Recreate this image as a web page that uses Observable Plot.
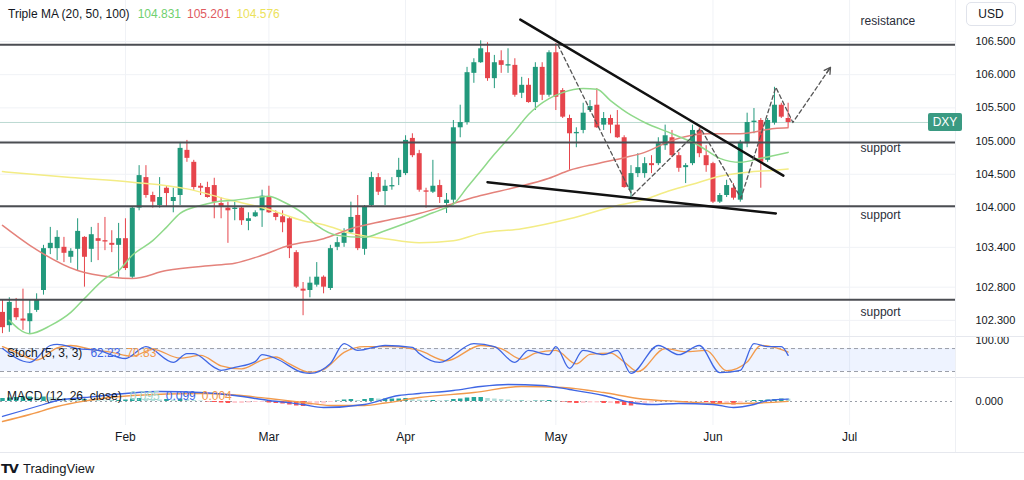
<!DOCTYPE html>
<html>
<head>
<meta charset="utf-8">
<script src="https://cdn.jsdelivr.net/npm/d3@7"></script>
<script src="https://cdn.jsdelivr.net/npm/@observablehq/plot@0.6"></script>
<style>
  html,body{margin:0;padding:0;background:#fff;}
  #chart{position:relative;width:1024px;height:480px;overflow:hidden;background:#fff;font-family:"Liberation Sans",Arial,sans-serif;color:#131722;}
  #chart .pane{position:absolute;left:0;}
  #chart .pane svg{display:block;}
  .lbl{position:absolute;font-size:12px;white-space:nowrap;line-height:14px;z-index:5;}
  .lbl span{margin-left:6px;}
  .sep{position:absolute;left:0;width:1024px;height:1px;background:#e6e8ee;}
</style>
</head>
<body>
<div id="chart"></div>
<script>
// ---------------- data ----------------
const tradingDays = [
  "Jan 8","Jan 9","Jan 10","Jan 11","Jan 12","Jan 15","Jan 16","Jan 17","Jan 18","Jan 19","Jan 22","Jan 23","Jan 24","Jan 25","Jan 26","Jan 29","Jan 30","Jan 31",
  "Feb 1","Feb 2","Feb 5","Feb 6","Feb 7","Feb 8","Feb 9","Feb 12","Feb 13","Feb 14","Feb 15","Feb 16","Feb 19","Feb 20","Feb 21","Feb 22","Feb 23","Feb 26","Feb 27","Feb 28","Feb 29",
  "Mar 1","Mar 4","Mar 5","Mar 6","Mar 7","Mar 8","Mar 11","Mar 12","Mar 13","Mar 14","Mar 15","Mar 18","Mar 19","Mar 20","Mar 21","Mar 22","Mar 25","Mar 26","Mar 27","Mar 28",
  "Apr 1","Apr 2","Apr 3","Apr 4","Apr 5","Apr 8","Apr 9","Apr 10","Apr 11","Apr 12","Apr 15","Apr 16","Apr 17","Apr 18","Apr 19","Apr 22","Apr 23","Apr 24","Apr 25","Apr 26","Apr 29","Apr 30",
  "May 1","May 2","May 3","May 6","May 7","May 8","May 9","May 10","May 13","May 14","May 15","May 16","May 17","May 20","May 21","May 22","May 23","May 24","May 27","May 28","May 29","May 30","May 31",
  "Jun 3","Jun 4","Jun 5","Jun 6","Jun 7","Jun 10","Jun 11","Jun 12","Jun 13","Jun 14","Jun 17","Jun 18"
];
const open = [102.42,102.22,102.48,102.32,102.28,102.45,102.75,103.38,103.38,103.40,
103.25,103.37,103.55,103.37,103.53,103.50,103.46,103.43,103.53,102.95,
103.99,104.45,104.18,104.03,104.29,104.09,104.18,104.86,104.68,104.32,
104.30,104.33,104.06,103.99,103.97,103.99,103.79,103.86,103.95,104.15,
103.91,103.86,103.83,103.32,102.77,102.75,102.83,102.95,102.78,103.40,
103.46,103.62,103.88,103.37,104.03,104.45,104.24,104.31,104.45,104.51,
105.04,104.81,104.25,104.23,104.33,104.06,104.11,105.20,105.28,106.02,
106.18,106.33,105.94,106.21,106.13,106.14,105.72,105.84,105.58,106.11,
105.69,106.33,105.76,105.34,105.11,105.16,105.46,105.54,105.24,105.34,
105.24,105.05,104.26,104.51,104.51,104.66,104.66,104.93,105.05,104.78,
104.60,104.66,105.16,104.78,104.66,104.08,104.18,104.29,104.11,104.96,
105.28,105.31,104.71,105.27,105.54,105.34];
const high = [102.60,102.64,102.63,102.77,102.60,102.70,103.43,103.70,103.65,103.55,
103.38,103.83,103.56,103.70,103.76,103.85,103.65,103.76,103.83,104.00,
104.63,104.63,104.23,104.45,104.33,104.29,104.98,105.01,104.71,104.36,
104.38,104.44,104.15,104.08,104.08,104.00,103.92,103.95,104.26,104.32,
103.95,103.95,103.85,103.35,102.87,102.95,103.17,102.97,103.43,103.55,
103.68,104.08,104.18,104.03,104.53,104.51,104.41,104.45,104.74,105.08,
105.11,104.86,104.29,104.71,104.41,104.21,105.31,105.54,106.11,106.24,
106.51,106.48,106.29,106.36,106.39,106.24,105.96,105.94,106.18,106.18,
106.36,106.47,105.79,105.39,105.20,105.57,105.61,105.79,105.43,105.39,
105.46,105.08,104.63,104.81,104.75,104.78,105.05,105.24,105.16,104.83,
104.66,105.24,105.20,104.93,104.68,104.21,104.41,104.36,105.01,105.42,
105.49,105.34,105.34,105.81,105.57,105.57];
const low = [102.10,102.12,102.30,102.15,102.10,102.42,102.68,103.29,103.20,103.17,
103.16,103.05,102.80,103.17,103.20,103.35,103.32,102.95,103.05,102.93,
103.95,104.14,103.99,103.99,104.00,103.92,104.03,104.68,104.26,104.18,
104.14,103.83,103.83,103.46,103.80,103.73,103.65,103.85,103.70,103.91,
103.80,103.62,103.23,102.78,102.37,102.64,102.80,102.70,102.75,103.35,
103.40,103.61,103.35,103.28,104.00,104.18,104.03,104.26,104.33,104.48,
104.75,104.23,103.99,104.21,104.06,103.91,104.06,105.05,105.24,105.87,
106.17,105.90,105.79,106.02,106.02,105.66,105.64,105.57,105.46,105.61,
105.66,105.46,105.34,104.56,104.90,105.11,105.43,105.19,105.16,105.11,
105.04,104.29,104.15,104.45,104.44,104.51,104.63,104.86,104.75,104.53,
104.36,104.63,104.75,104.53,104.06,104.06,104.15,104.11,104.08,104.90,
105.11,104.29,104.68,105.24,105.34,105.20];
const close = [102.19,102.57,102.34,102.29,102.40,102.60,103.38,103.46,103.55,103.31,
103.34,103.64,103.25,103.59,103.49,103.48,103.43,103.53,103.08,103.99,
104.48,104.18,104.08,104.15,104.21,104.15,104.89,104.74,104.30,104.29,
104.15,104.08,104.00,103.95,103.99,103.80,103.83,103.92,104.17,103.92,
103.85,103.77,103.38,102.80,102.74,102.86,102.95,102.80,103.38,103.47,
103.61,103.85,103.38,104.00,104.45,104.23,104.32,104.33,104.56,105.01,
104.78,104.26,104.23,104.32,104.15,104.11,105.20,105.28,106.03,106.18,
106.39,105.94,106.18,106.14,106.15,105.69,105.84,105.58,106.11,105.69,
106.33,105.66,105.36,105.11,105.13,105.42,105.52,105.20,105.34,105.24,
105.05,104.30,104.51,104.60,104.66,104.63,104.96,105.08,104.78,104.59,
104.63,105.16,104.81,104.63,104.08,104.18,104.33,104.14,104.98,105.28,
105.30,104.68,105.31,105.54,105.36,105.28];

// moving averages (bar index, value)
const ma20Bar = [1,4,7,10,12,15,17,19,22,24,26,29,31,34,37,39,41,44,46,49,53,56,60,63,65,66,68,70,72,75,77,80,82,85,87,89,92,94,98,102,105,108,111,115];
const ma20Val = [102.30,102.10,102.22,102.42,102.63,102.93,103.05,103.28,103.50,103.70,103.91,104.03,104.08,104.11,104.15,104.17,104.09,103.91,103.73,103.58,103.55,103.65,103.80,103.92,104.00,104.05,104.30,104.55,104.80,105.15,105.40,105.64,105.73,105.79,105.78,105.61,105.39,105.28,105.11,104.93,104.74,104.68,104.74,104.83];
const ma50Bar = [0,4,11,16,19,24,31,34,38,42,47,51,56,61,66,70,75,80,83,87,91,94,98,103,108,113,115];
const ma50Val = [103.73,103.43,103.05,102.95,102.93,103.05,103.13,103.16,103.28,103.43,103.53,103.68,103.80,103.91,104.06,104.18,104.30,104.44,104.56,104.66,104.75,104.83,105.01,105.11,105.11,105.19,105.20];
const ma100Bar = [0,10,19,27,33,39,44,47,51,56,61,66,70,76,83,90,94,97,101,105,109,113,115];
const ma100Val = [104.54,104.45,104.38,104.28,104.12,103.97,103.80,103.74,103.61,103.53,103.47,103.50,103.61,103.68,103.83,104.03,104.12,104.23,104.35,104.47,104.53,104.56,104.58];
const maLegend = ["104.831","105.201","104.576"];

// drawings
const levelPrices = [106.45,104.98,104.02,102.61];
const levelLabels = ["resistance","support","support","support"];
const levelLabelPrices = [106.80,104.89,103.89,102.43];
const levelLabelBar = 125.6;
const upperTrendBar = [75.8,114.3], upperTrendPrice = [106.83,104.48];
const lowerTrendBar = [71.0,113.2], lowerTrendPrice = [104.38,103.91];
const pathBar = [81.3,92.2,102.2,108.1,113.2,115.7,121.2];
const pathPrice = [106.45,104.18,105.19,104.14,105.81,105.28,106.11];

// stochastic (5,3,3)
const stochKBar = [0,4,7,8,11,14,18,21,25,27,28,31,32,34,37,38,40,44,45,48,50,52,56,60,61,64,69,72,75,77,80,81,83,85,88,90,92,96,99,102,105,108,110,112,114,115];
const stochKVal = [80,44,88,91,80,75,54,85,44,67,67,31,23,31,46,64,54,17,15,41,93,75,88,83,67,44,93,85,44,75,64,85,28,75,64,75,15,88,64,88,17,23,93,85,85,62.23];
const stochDBar = [0,2,5,8,10,13,16,19,22,26,29,32,35,38,40,42,45,47,50,53,57,61,65,70,73,76,78,81,84,86,89,91,93,97,100,103,106,109,111,113,115];
const stochDVal = [85,70,50,82,88,78,70,60,78,55,62,35,27,50,58,40,18,25,70,85,85,75,48,88,80,52,68,75,40,65,68,45,20,80,72,75,22,45,88,83,70.83];
const stochLegend = ["62.23","70.83"];

// MACD (12,26,close)
const macdBar = [0,3,6,8,12,18,23,29,34,39,44,47,53,58,61,66,70,74,79,83,88,92,95,99,104,107,110,112,115];
const macdVal = [-0.60,-0.36,-0.12,0.04,0.16,0.32,0.40,0.36,0.24,0.04,-0.12,-0.24,-0.12,0.24,0.32,0.44,0.60,0.68,0.64,0.48,0.24,-0.04,-0.12,-0.08,-0.12,-0.24,-0.12,0.04,0.099];
const signalBar = [0,4,8,12,19,29,34,39,44,48,53,56,61,69,76,82,88,93,99,105,111,115];
const signalVal = [-0.80,-0.52,-0.20,0.02,0.24,0.32,0.26,0.12,-0.04,-0.16,-0.16,-0.06,0.16,0.36,0.60,0.56,0.36,0.12,0.00,-0.08,-0.06,0.004];
const histVal = [0.12,0.14,0.16,0.18,0.18,0.16,0.18,0.16,0.14,0.12,
0.10,0.08,0.08,0.06,0.04,0.02,0.02,0.04,0.06,0.10,
0.12,0.10,0.08,0.06,0.08,0.06,0.10,0.08,0.04,0.02,
-0.02,-0.04,-0.06,-0.08,-0.08,-0.08,-0.06,-0.04,-0.04,-0.06,
-0.08,-0.10,-0.14,-0.18,-0.20,-0.16,-0.12,-0.10,-0.04,0.02,
0.06,0.08,0.04,0.08,0.12,0.10,0.10,0.10,0.10,0.12,
0.10,0.06,0.04,0.04,0.02,0.02,0.08,0.10,0.14,0.16,
0.16,0.12,0.10,0.08,0.06,0.02,0.02,0.01,0.02,0.02,
0.04,0.02,-0.02,-0.06,-0.08,-0.08,-0.06,-0.06,-0.08,-0.08,
-0.10,-0.16,-0.18,-0.14,-0.10,-0.06,-0.02,0.02,0.01,-0.02,
-0.04,-0.02,-0.02,-0.04,-0.10,-0.12,-0.12,-0.14,-0.06,0.01,
0.04,0.04,0.06,0.08,0.10,0.095];
const macdLegend = ["0.095","0.099","0.004"];

// axes
const priceTicks = [106.5,106,105.5,105,104.5,104,103.4,102.8,102.3];
const monthTickBars = [18,39,59,81,104,124];
const monthLabels = ["Feb","Mar","Apr","May","Jun","Jul"];

// ---------------- styling ----------------
const FONT = '"Liberation Sans", Arial, sans-serif';
const UP = "#22997c", DOWN = "#e6454c";
const C20 = "#8fd98a", C50 = "#e4827b", C100 = "#f3ec85";
const BLUE = "#3f66e4", ORANGE = "#f29a4c";
const GRID = "#f0f2f6";
const X_DOMAIN = [-0.29, 139.5];

const bars = open.map((o, i) => ({i, day: tradingDays[i], open: o, high: high[i], low: low[i], close: close[i]}));
const pts = (b, v) => b.map((x, k) => ({i: x, v: v[k]}));
const candleColor = d => d.close >= d.open ? UP : DOWN;
const lastClose = close[close.length - 1];

const common = {
  width: 1024, marginLeft: 0, marginRight: 69, marginTop: 0,
  style: {fontFamily: FONT, fontSize: "11px", color: "#131722", background: "transparent", overflow: "visible"},
  color: {type: "identity"},
  x: {domain: X_DOMAIN, axis: null}
};

const main = Plot.plot({
  ...common, height: 336, marginBottom: 0,
  y: {domain: [102.057, 107.117], axis: null},
  marks: [
    Plot.ruleX(monthTickBars, {stroke: GRID}),
    Plot.ruleY(priceTicks, {stroke: GRID}),
    Plot.ruleY([lastClose], {stroke: "#bcd9d2"}),
    Plot.ruleX(bars, {x: "i", y1: "low", y2: "high", stroke: candleColor, strokeWidth: 1}),
    Plot.ruleX(bars, {x: "i", y1: "open", y2: "close", stroke: candleColor, strokeWidth: 5}),
    Plot.line(pts(ma100Bar, ma100Val), {x: "i", y: "v", stroke: C100, strokeWidth: 1.5, curve: "monotone-x"}),
    Plot.line(pts(ma50Bar, ma50Val), {x: "i", y: "v", stroke: C50, strokeWidth: 1.5, curve: "monotone-x"}),
    Plot.line(pts(ma20Bar, ma20Val), {x: "i", y: "v", stroke: C20, strokeWidth: 1.5, curve: "monotone-x"}),
    Plot.ruleY(levelPrices, {stroke: "#4b4d52", strokeWidth: 2}),
    Plot.line(pts(upperTrendBar, upperTrendPrice), {x: "i", y: "v", stroke: "#111", strokeWidth: 2.5}),
    Plot.line(pts(lowerTrendBar, lowerTrendPrice), {x: "i", y: "v", stroke: "#111", strokeWidth: 2.5}),
    Plot.line(pts(pathBar, pathPrice), {x: "i", y: "v", stroke: "#555", strokeWidth: 1.3, strokeDasharray: "4,3"}),
    Plot.arrow([{x1: pathBar[5], y1: pathPrice[5], x2: pathBar[6], y2: pathPrice[6]}],
      {x1: "x1", y1: "y1", x2: "x2", y2: "y2", stroke: "#555", strokeWidth: 1.3, headLength: 8, insetStart: 60}),
    Plot.text(levelLabels.map((t, k) => ({t, v: levelLabelPrices[k]})),
      {x: () => levelLabelBar, y: "v", text: "t", textAnchor: "start", fontSize: 12, fill: "#2a2e39"}),
    Plot.axisY(priceTicks, {anchor: "right", label: null, tickSize: 0, tickPadding: 20, tickFormat: d3.format(".3f"), fontSize: 11, fill: "#131722"})
  ]
});

const stoch = Plot.plot({
  ...common, height: 39, marginBottom: 0,
  y: {domain: [7, 108.9], axis: null},
  marks: [
    Plot.ruleX(monthTickBars, {stroke: GRID}),
    Plot.rect([{x1: X_DOMAIN[0], x2: X_DOMAIN[1], y1: 20, y2: 80}], {x1: "x1", x2: "x2", y1: "y1", y2: "y2", fill: "#2962ff", fillOpacity: 0.08}),
    Plot.ruleY([20, 80], {stroke: "#9a9ea8", strokeDasharray: "4,3"}),
    Plot.line(pts(stochDBar, stochDVal), {x: "i", y: "v", stroke: ORANGE, strokeWidth: 1.3, curve: "monotone-x"}),
    Plot.line(pts(stochKBar, stochKVal), {x: "i", y: "v", stroke: BLUE, strokeWidth: 1.3, curve: "monotone-x"}),
    Plot.axisY([100], {anchor: "right", label: null, tickSize: 0, tickPadding: 20, tickFormat: d3.format(".2f"), fontSize: 11, fill: "#131722"})
  ]
});

const hist = histVal.map((h, i) => ({i, h, c: h >= 0 ? (h >= (i ? histVal[i - 1] : 0) ? "#26a69a" : "#b2dfdb") : (h < (i ? histVal[i - 1] : 0) ? "#ff5252" : "#ffcdd2")}));
const macd = Plot.plot({
  ...common, height: 76, marginBottom: 27,
  y: {domain: [-0.96, 1.0], axis: null},
  marks: [
    Plot.ruleX(monthTickBars, {stroke: GRID}),
    Plot.ruleY([0], {stroke: "#9a9ea8", strokeDasharray: "2,3"}),
    Plot.ruleX(hist, {x: "i", y1: () => 0, y2: "h", stroke: "c", strokeWidth: 4.5}),
    Plot.line(pts(signalBar, signalVal), {x: "i", y: "v", stroke: ORANGE, strokeWidth: 1.3, curve: "monotone-x"}),
    Plot.line(pts(macdBar, macdVal), {x: "i", y: "v", stroke: BLUE, strokeWidth: 1.3, curve: "monotone-x"}),
    Plot.axisY([0], {anchor: "right", label: null, tickSize: 0, tickPadding: 20, tickFormat: d3.format(".3f"), fontSize: 11, fill: "#131722"}),
    Plot.axisX(monthTickBars, {label: null, tickSize: 0, tickPadding: 7, fontSize: 12, fill: "#131722",
      tickFormat: d => monthLabels[monthTickBars.indexOf(d)]})
  ]
});

// ---------------- assemble ----------------
const root = document.getElementById("chart");
function place(node, top) { const d = document.createElement("div"); d.className = "pane"; d.style.top = top + "px"; d.appendChild(node); root.appendChild(d); }
place(main, 0);
place(stoch, 337);
place(macd, 376);

function html(s) { const d = document.createElement("div"); d.innerHTML = s; const n = d.firstElementChild; root.appendChild(n); return n; }
html(`<div class="sep" style="top:336px"></div>`);
html(`<div class="sep" style="top:377px"></div>`);
html(`<div class="sep" style="top:452px"></div>`);
html(`<div style="position:absolute;left:955px;top:0;width:1px;height:452px;background:#eef0f4"></div>`);

html(`<div class="lbl" style="left:8px;top:7px">Triple MA (20, 50, 100)<span style="color:#6fd06f;margin-left:8px">${maLegend[0]}</span><span style="color:#e05a5f">${maLegend[1]}</span><span style="color:#ece25a">${maLegend[2]}</span></div>`);
html(`<div class="lbl" style="left:7px;top:346px">Stoch (5, 3, 3)<span style="color:${BLUE};margin-left:8px">${stochLegend[0]}</span><span style="color:${ORANGE}">${stochLegend[1]}</span></div>`);
html(`<div class="lbl" style="left:7px;top:389px">MACD (12, 26, close)<span style="color:#9fd6cc;margin-left:8px">${macdLegend[0]}</span><span style="color:${BLUE}">${macdLegend[1]}</span><span style="color:${ORANGE}">${macdLegend[2]}</span></div>`);

html(`<div style="position:absolute;left:966px;top:2px;width:50px;height:24px;border:1px solid #e0e3eb;border-radius:5px;box-sizing:border-box;font-size:12px;line-height:22px;text-align:center;color:#131722;background:#fff">USD</div>`);
const yLast = main.scale("y").apply(lastClose);
html(`<div style="position:absolute;left:928px;top:${Math.round(yLast - 9)}px;width:34px;height:18px;background:#3a9a82;color:#fff;border-radius:2px;font-size:12px;line-height:18px;text-align:center;z-index:6">DXY</div>`);

html(`<div style="position:absolute;left:1px;top:461px;font-size:13px;line-height:16px;color:#131722;white-space:nowrap"><b style="font-family:'DejaVu Sans';font-weight:900;letter-spacing:-1px;margin-right:5px">TV</b>TradingView</div>`);
</script>
</body>
</html>
